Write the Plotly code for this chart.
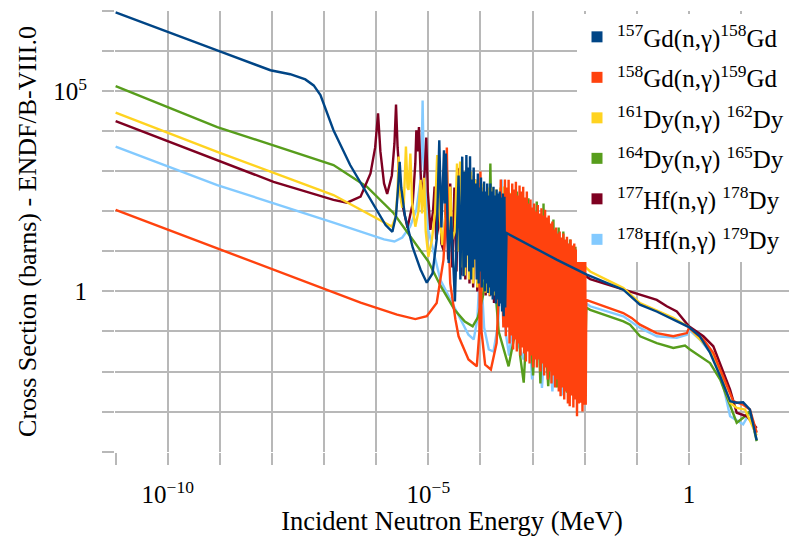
import numpy as np
import plotly.graph_objects as go

# Capture cross sections, stored as (log10 E [MeV], log10 sigma [barns]) pairs
GD157 = [
    (-11, 6.975), (-10, 6.48), (-9, 6.0), (-8.03, 5.53), (-7.65, 5.43), (-7.36, 5.30),
    (-7.20, 5.15), (-7.07, 4.91), (-6.82, 4.03), (-6.50, 3.16), (-6.11, 2.29), (-5.82, 1.66),
    (-5.69, 1.49), (-5.62, 1.9), (-5.58, 2.6), (-5.55, 3.24), (-5.52, 2.6), (-5.45, 1.9),
    (-5.30, 1.1), (-5.15, 0.55), (-5.03, 0.22), (-4.92, 0.45), (-4.84, 1.3), (-4.79, 3.78),
    (-4.75, 1.6), (-4.70, 3.53), (-4.685, 2.2), (-4.665, 3.45), (-4.61, 0.71), (-4.56, 1.87),
    (-4.49, -0.25),
    (-4.42, 2.9), (-4.385, 0.3), (-4.35, 3.37), (-4.325, 0.38), (-4.30, 3.0), (-4.285, 0.6),
    (-4.27, 3.41), (-4.25, 0.9), (-4.23, 3.1), (-4.215, 0.5), (-4.20, 3.38), (-4.18, 0.3),
    (-4.16, 2.8), (-4.145, 0.6), (-4.13, 3.1), (-4.11, 0.8), (-4.09, 2.7), (-4.07, 0.3),
    (-4.05, 2.95), (-4.035, 0.2), (-4.02, 2.6), (-4.005, 0.5), (-3.99, 2.85), (-3.975, 0.1),
    (-3.96, 2.5), (-3.945, 0.3), (-3.93, 2.75), (-3.915, 0.0), (-3.90, 2.5), (-3.885, 0.2),
    (-3.87, 2.7), (-3.855, -0.04), (-3.84, 2.4), (-3.825, 0.1), (-3.81, 2.7), (-3.795, -0.1),
    (-3.78, 2.5), (-3.765, -0.2), (-3.75, 2.62), (-3.735, 0.0), (-3.72, 2.4), (-3.705, -0.3),
    (-3.69, 2.55), (-3.675, -0.2), (-3.66, 2.45), (-3.645, -0.37), (-3.63, 2.5), (-3.615, -0.3),
    (-3.60, 2.35), (-3.585, -0.5), (-3.57, 2.45), (-3.555, -0.62), (-3.54, 2.37), (-3.525, -0.4),
    (-3.50, 1.46), (-2.53, 0.79), (-1.96, 0.42), (-1.26, 0.045), (-0.94, -0.33), (-0.62, -0.50),
    (-0.30, -0.71), (0.0, -0.89), (0.21, -1.12), (0.405, -1.53), (0.60, -2.12), (0.79, -2.74),
    (0.917, -2.78), (1.04, -2.77), (1.17, -2.95), (1.30, -3.72),
]

GD158 = [
    (-11, 2.04), (-9, 1.05), (-7, 0.06), (-6.3, -0.28), (-5.6, -0.58), (-5.25, -0.69),
    (-5.03, -0.62), (-4.84, -0.29), (-4.71, 0.79), (-4.665, 1.8), (-4.645, 3.6), (-4.625, 1.8),
    (-4.58, 0.2), (-4.52, -0.4), (-4.48, -0.70), (-4.42, -1.12), (-4.23, -1.70), (-4.07, -1.87),
    (-4.02, -1.0), (-4.00, 3.0), (-3.98, -1.0), (-3.91, -1.83), (-3.80, -1.95), (-3.69, -1.29),
    (-3.63, 0.5), (-3.61, 2.8), (-3.59, 0.5), (-3.56, -0.9),
    (-3.53, 2.80), (-3.5125, -1.12), (-3.495, 2.60), (-3.4775, -0.9), (-3.46, 2.79), (-3.4425, -1.3),
    (-3.425, 2.45), (-3.4075, -1.1), (-3.39, 2.70), (-3.3725, -1.45), (-3.355, 2.55), (-3.3375, -1.2),
    (-3.32, 2.74), (-3.3025, -1.5), (-3.285, 2.40), (-3.2675, -1.3), (-3.25, 2.65), (-3.2325, -1.6),
    (-3.215, 2.50), (-3.1975, -1.4), (-3.18, 2.62), (-3.1625, -1.55), (-3.145, 2.35), (-3.1275, -1.75),
    (-3.11, 2.50), (-3.0925, -1.5), (-3.075, 2.20), (-3.0575, -1.8), (-3.04, 2.30), (-3.0225, -1.6),
    (-3.005, 2.10), (-2.9875, -1.9), (-2.97, 2.20), (-2.9525, -1.7), (-2.935, 2.00), (-2.9175, -1.9),
    (-2.90, 2.16), (-2.8825, -1.7), (-2.865, 1.95), (-2.8475, -2.0), (-2.83, 2.08), (-2.8125, -1.8),
    (-2.795, 1.90), (-2.7775, -2.1), (-2.76, 2.04), (-2.7425, -1.9), (-2.725, 1.85), (-2.7075, -2.2),
    (-2.69, 1.90), (-2.6725, -2.0), (-2.655, 1.70), (-2.6375, -2.3), (-2.62, 1.75), (-2.6025, -2.1),
    (-2.585, 1.55), (-2.5675, -2.4), (-2.55, 1.60), (-2.5325, -2.2), (-2.515, 1.45), (-2.4975, -2.5),
    (-2.48, 1.50), (-2.4625, -2.62), (-2.445, 1.35), (-2.4275, -2.4), (-2.41, 1.45), (-2.3925, -2.7),
    (-2.375, 1.30), (-2.3575, -2.5), (-2.34, 1.37), (-2.3225, -2.8), (-2.305, 1.20), (-2.2875, -2.87),
    (-2.27, 1.30), (-2.2525, -2.6), (-2.235, 1.15), (-2.2175, -2.9), (-2.20, 1.20), (-2.1825, -2.7),
    (-2.165, 1.05), (-2.1475, -3.12), (-2.13, 1.12), (-2.1125, -2.8), (-2.095, 1.00), (-2.0775, -2.78),
    (-2.06, 1.10), (-2.0425, -3.0), (-2.025, 0.95), (-2.0075, -2.83), (-1.99, 1.08), (-1.98, -2.83),
    (-1.97, -0.21), (-1.26, -0.54), (-1.10, -0.66), (-0.94, -0.83), (-0.62, -1.04), (-0.30, -1.12),
    (-0.04, -1.04), (0.0, -0.91), (0.28, -1.20), (0.47, -1.54), (0.66, -2.12), (0.85, -2.74),
    (1.04, -2.83), (1.17, -2.95), (1.30, -3.53),
]

DY161 = [
    (-11, 4.47), (-9.05, 3.49), (-6.82, 2.41), (-6.18, 1.955), (-5.70, 1.62), (-5.63, 1.85),
    (-5.59, 2.5), (-5.57, 3.37), (-5.55, 2.5), (-5.50, 2.1), (-5.47, 2.2), (-5.43, 3.62),
    (-5.40, 2.6), (-5.38, 2.54), (-5.345, 3.45), (-5.31, 2.2), (-5.25, 1.62), (-5.19, 2.0),
    (-5.15, 2.79), (-5.12, 1.95), (-5.08, 2.84), (-5.05, 1.5), (-5.00, 0.87), (-4.93, 1.3),
    (-4.87, 2.0), (-4.83, 3.41), (-4.79, 2.0), (-4.73, 1.16), (-4.67, 1.9), (-4.64, 3.03),
    (-4.61, 1.54), (-4.58, 2.62), (-4.54, 1.3), (-4.49, 1.5), (-4.45, 3.2), (-4.42, 1.0),
    (-4.39, 3.25), (-4.36, 0.6), (-4.33, 3.0), (-4.30, 0.4), (-4.26, 2.9), (-4.22, 0.3),
    (-4.18, 3.0), (-4.14, 0.2), (-4.10, 2.8), (-4.06, 0.1), (-4.02, 2.7), (-3.98, 0.0),
    (-3.94, 2.7), (-3.90, -0.03), (-3.86, 2.6), (-3.82, -0.1), (-3.78, 2.6), (-3.74, -0.1),
    (-3.70, 2.55), (-3.66, -0.2), (-3.62, 2.6), (-3.58, -0.1), (-3.55, 2.62), (-3.52, 2.55),
    (-2.9, 1.7), (-2.4, 1.1), (-1.895, 0.50), (-1.257, 0.085), (-0.937, -0.29), (-0.30, -0.66),
    (0.0, -0.89), (0.15, -1.12), (0.405, -1.45), (0.60, -2.03), (0.79, -2.78), (0.917, -2.91),
    (1.076, -2.95), (1.30, -3.60),
]

DY164 = [
    (-11, 5.13), (-9.05, 4.11), (-6.82, 3.16), (-6.18, 2.62), (-5.665, 1.955), (-5.44, 1.55),
    (-5.0, 0.75), (-4.77, 0.15), (-4.50, -0.45), (-4.30, -0.75), (-4.15, -0.87), (-4.05, -0.65),
    (-3.95, -0.1), (-3.87, 1.0), (-3.825, 2.0), (-3.81, 3.2), (-3.795, 2.0), (-3.75, 0.6),
    (-3.65, -1.0), (-3.46, -1.87), (-3.36, -1.2), (-3.31, 0.5), (-3.30, 2.5), (-3.29, 0.5),
    (-3.24, -1.6), (-3.17, -2.28), (-3.11, -0.8), (-3.08, 2.33), (-3.05, -0.8), (-2.99, -2.1),
    (-2.95, -0.9), (-2.92, 2.25), (-2.89, -0.9), (-2.85, -2.3), (-2.81, -0.8), (-2.79, 2.2),
    (-2.77, -0.8), (-2.70, -2.37), (-2.63, -0.8), (-2.60, 1.8), (-2.57, -0.8), (-2.53, -2.4),
    (-2.50, 1.6), (-2.47, -2.3), (-2.43, -0.6), (-2.41, 1.5), (-2.39, -0.6), (-2.34, -2.53),
    (-2.29, -0.8), (-2.28, 1.3), (-2.26, -0.8), (-2.22, -2.6), (-2.19, 0.0), (-2.18, 1.12),
    (-2.17, 0.0), (-2.10, -2.6), (-2.06, -0.5), (-2.05, 0.9), (-2.04, -0.5), (-2.00, -2.4),
    (-1.97, -0.40), (-1.895, -0.46), (-1.257, -0.75), (-1.13, -0.83), (-0.937, -1.12),
    (-0.617, -1.29), (-0.30, -1.41), (-0.075, -1.35), (0.02, -1.45), (0.21, -1.62),
    (0.405, -1.79), (0.60, -2.20), (0.79, -2.87), (0.917, -3.28), (1.076, -3.12),
    (1.17, -2.99), (1.30, -3.74),
]

HF177 = [
    (-11, 4.26), (-9.05, 3.28), (-7.97, 2.74), (-6.82, 2.29), (-6.56, 2.22), (-6.30, 2.37),
    (-6.11, 2.95), (-6.02, 3.6), (-5.965, 4.45), (-5.92, 3.5), (-5.85, 2.7), (-5.79, 2.44),
    (-5.70, 2.9), (-5.65, 3.7), (-5.62, 4.67), (-5.59, 3.6), (-5.52, 2.3), (-5.40, 1.59),
    (-5.30, 2.2), (-5.25, 3.2), (-5.23, 4.03), (-5.205, 3.5), (-5.18, 4.11), (-5.15, 3.0),
    (-5.115, 2.29), (-5.07, 3.0), (-5.04, 3.85), (-5.01, 2.5), (-4.96, 1.54), (-4.91, 2.0),
    (-4.88, 2.62), (-4.85, 1.3), (-4.81, 1.6), (-4.78, 2.9), (-4.75, 1.2), (-4.70, 1.0),
    (-4.66, 2.5), (-4.62, 0.8), (-4.58, 2.7), (-4.54, 0.6), (-4.50, 2.6), (-4.46, 0.5),
    (-4.42, 3.0), (-4.40, 3.08), (-4.37, 0.4), (-4.33, 2.8), (-4.29, 0.3), (-4.25, 3.04),
    (-4.21, 0.2), (-4.18, 2.9), (-4.14, 0.1), (-4.10, 2.8), (-4.06, 0.0), (-4.02, 2.7),
    (-3.98, 0.0), (-3.94, 2.6), (-3.90, -0.1), (-3.86, 2.5), (-3.82, -0.12), (-3.78, 2.45),
    (-3.74, -0.29), (-3.70, 2.4), (-3.66, -0.2), (-3.62, 2.3), (-3.58, -0.3), (-3.55, 1.6),
    (-2.5, 0.85), (-1.895, 0.31), (-1.065, -0.04), (-0.617, -0.21), (-0.425, -0.37),
    (-0.233, -0.50), (0.0, -0.87), (0.277, -1.12), (0.468, -1.37), (0.596, -1.79),
    (0.788, -2.45), (0.917, -3.03), (1.11, -3.12), (1.30, -3.41),
]

HF178 = [
    (-11, 3.62), (-9.05, 2.66), (-6.82, 1.72), (-6.2, 1.45), (-5.85, 1.3), (-5.65, 1.25),
    (-5.50, 1.35), (-5.35, 1.62), (-5.23, 2.04), (-5.15, 2.79), (-5.125, 3.6), (-5.11, 4.77),
    (-5.095, 3.6), (-5.07, 2.79), (-5.0, 1.54), (-4.77, 0.29), (-4.48, -0.46), (-4.23, -1.08),
    (-4.13, -1.2), (-4.06, -0.7), (-4.02, 0.3), (-4.00, 2.6), (-3.98, 0.3), (-3.93, -0.9),
    (-3.84, -1.45), (-3.75, -1.5), (-3.66, -0.8), (-3.61, 0.5), (-3.59, 2.8), (-3.57, 0.5),
    (-3.52, -1.0), (-3.45, -1.6), (-3.38, -0.8), (-3.355, 0.5), (-3.35, 2.3), (-3.345, 0.5),
    (-3.28, -1.3), (-3.17, -1.70), (-3.11, -0.8), (-3.09, 2.2), (-3.07, -0.8), (-3.01, -2.2),
    (-2.95, -1.0), (-2.92, 1.9), (-2.89, -1.0), (-2.82, -2.41), (-2.75, -1.0), (-2.72, 1.7),
    (-2.69, -1.0), (-2.62, -2.5), (-2.55, -1.1), (-2.52, 1.5), (-2.49, -1.1), (-2.42, -2.6),
    (-2.35, -1.2), (-2.32, 1.2), (-2.29, -1.2), (-2.22, -2.6), (-2.15, -1.3), (-2.12, 0.9),
    (-2.09, -1.3), (-2.04, -2.5), (-1.97, -0.30), (-1.895, -0.37), (-1.257, -0.62),
    (-0.937, -0.91), (-0.617, -1.12), (-0.233, -1.16), (-0.04, -1.08), (0.0, -0.95),
    (0.21, -1.20), (0.468, -1.62), (0.66, -2.37), (0.79, -3.12), (1.04, -3.32),
    (1.17, -3.03), (1.30, -3.53),
]

LABELS = {
    "GD157": "<sup>157</sup>Gd(n,γ)<sup>158</sup>Gd",
    "GD158": "<sup>158</sup>Gd(n,γ)<sup>159</sup>Gd",
    "DY161": "<sup>161</sup>Dy(n,γ) <sup>162</sup>Dy",
    "DY164": "<sup>164</sup>Dy(n,γ) <sup>165</sup>Dy",
    "HF177": "<sup>177</sup>Hf(n,γ) <sup>178</sup>Dy",
    "HF178": "<sup>178</sup>Hf(n,γ) <sup>179</sup>Dy",
}
COLORS = {
    "GD157": "#004586", "GD158": "#ff420e", "DY161": "#ffd320",
    "DY164": "#579d1c", "HF177": "#7e0021", "HF178": "#83caff",
}
CURVES = {"GD157": GD157, "GD158": GD158, "DY161": DY161,
          "DY164": DY164, "HF177": HF177, "HF178": HF178}

LEGEND_ORDER = ["GD157", "GD158", "DY161", "DY164", "HF177", "HF178"]
DRAW_ORDER = ["HF178", "DY164", "HF177", "DY161", "GD158", "GD157"]

X_TICK_TEXT = {-10: "10<sup>−10</sup>", -5: "10<sup>−5</sup>", 0: "1"}
Y_TICK_TEXT = {5: "10<sup>5</sup>", 0: "1"}

FONT = "Liberation Serif"
GRID = "#b8b8b8"

fig = go.Figure()

for key in DRAW_ORDER:
    pts = np.array(CURVES[key], dtype=float)
    fig.add_trace(go.Scatter(
        x=np.power(10.0, pts[:, 0]), y=np.power(10.0, pts[:, 1]),
        mode="lines", line=dict(color=COLORS[key], width=2.4),
        showlegend=False, hoverinfo="skip",
    ))

# square swatches for the legend
for key in LEGEND_ORDER:
    fig.add_trace(go.Scatter(
        x=[None], y=[None], mode="markers", name=LABELS[key],
        marker=dict(symbol="square", size=11, color=COLORS[key]),
        legendgroup=key,
    ))

x_decades = list(range(-11, 2))
y_decades = list(range(-4, 8))

fig.update_xaxes(
    type="log", range=[-11.012, 1.92],
    tickvals=[10.0 ** d for d in x_decades],
    ticktext=[X_TICK_TEXT.get(d, "") for d in x_decades],
    ticks="outside", ticklen=12, tickwidth=2, tickcolor=GRID,
    showgrid=True, gridcolor=GRID, gridwidth=2,
    showline=False, zeroline=False, ticklabelstandoff=8,
    tickfont=dict(family=FONT, size=25, color="black"),
    title=dict(text="Incident Neutron Energy (MeV)",
               font=dict(family=FONT, size=26.5, color="black"), standoff=5),
)
fig.update_yaxes(
    type="log", range=[-4.012, 7.01],
    tickvals=[10.0 ** d for d in y_decades],
    ticktext=[Y_TICK_TEXT.get(d, "") for d in y_decades],
    ticks="outside", ticklen=12, tickwidth=2, tickcolor=GRID,
    showgrid=True, gridcolor=GRID, gridwidth=2,
    showline=False, zeroline=False, ticklabelstandoff=10,
    tickfont=dict(family=FONT, size=25, color="black"),
    title=dict(text="Cross Section (barns) - ENDF/B-VIII.0",
               font=dict(family=FONT, size=26, color="black"), standoff=9),
)

fig.update_layout(
    width=789, height=536,
    margin=dict(l=115, r=0, t=11, b=84, autoexpand=False),
    paper_bgcolor="white", plot_bgcolor="white",
    font=dict(family=FONT, color="black"),
    legend=dict(
        x=1.0, y=0.993, xanchor="right", yanchor="top",
        bgcolor="white", borderwidth=0,
        font=dict(family=FONT, size=25, color="black"),
        tracegroupgap=5,
    ),
)

fig.write_html("out.html")
